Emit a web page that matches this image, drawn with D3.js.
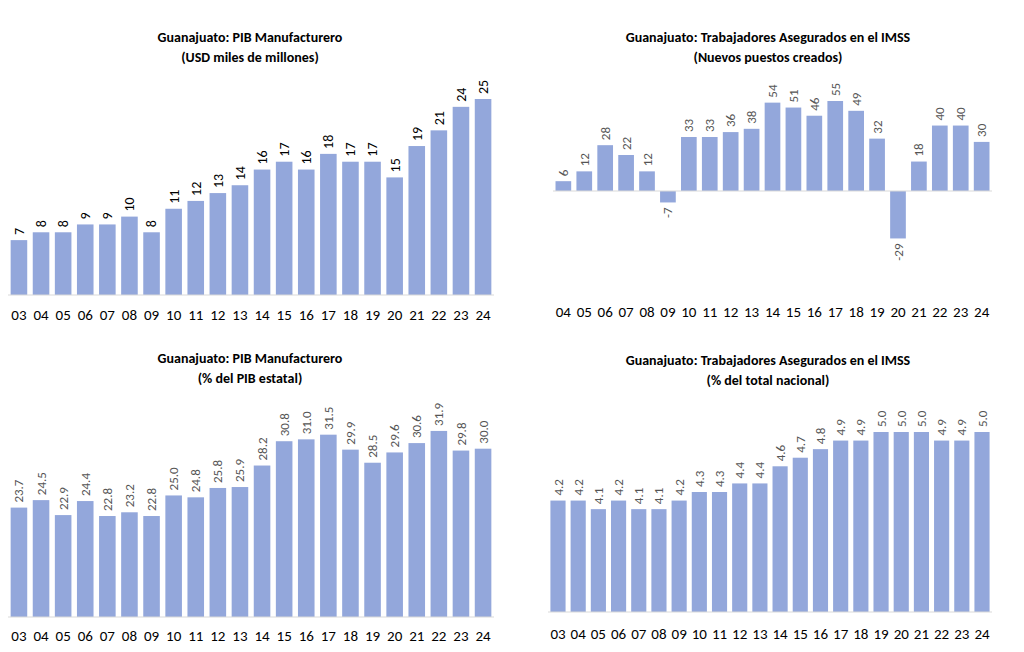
<!DOCTYPE html>
<html><head><meta charset="utf-8">
<script src="https://cdn.jsdelivr.net/npm/d3@7"></script>
<style>body{margin:0;background:#fff}text{font-family:Calibri,Carlito,"Open Sans",sans-serif}</style>
</head><body><svg id="c" width="1024" height="652"></svg>
<script>
const years03 = ["03","04","05","06","07","08","09","10","11","12","13","14","15","16","17","18","19","20","21","22","23","24"];
const years04 = years03.slice(1);
const pibUsd = [7,8,8,9,9,10,8,11,12,13,14,16,17,16,18,17,17,15,19,21,24,25];
const puestos = [6,12,28,22,12,-7,33,33,36,38,54,51,46,55,49,32,-29,18,40,40,30];
const pibPct = [23.7,24.5,22.9,24.4,22.8,23.2,22.8,25.0,24.8,25.8,25.9,28.2,30.8,31.0,31.5,29.9,28.5,29.6,30.6,31.9,29.8,30.0];
const imssPct = [4.2,4.2,4.1,4.2,4.1,4.1,4.2,4.3,4.3,4.4,4.4,4.6,4.7,4.8,4.9,4.9,5.0,5.0,5.0,4.9,4.9,5.0];

const svg = d3.select("#c");
const color = "#93a7db";

function panel(o){
  const g = svg.append("g");
  const x = d3.scaleBand().domain(o.cats).range([o.x0,o.x1]).paddingInner(0.25).paddingOuter(0.12);
  const y = d3.scaleLinear().domain(o.dom).range(o.rng);
  const base = y(o.base);
  o.vals.forEach((v,i)=>{
    const c=o.cats[i];
    g.append("rect").attr("x",x(c)).attr("width",x.bandwidth())
      .attr("y",Math.min(y(v),base)).attr("height",Math.abs(y(v)-base)).attr("fill",color);
    const cx=x(c)+x.bandwidth()/2;
    const ty = v>=0 ? y(v)-5 : y(v)+5;
    g.append("text").attr("transform",`translate(${cx+o.fs*0.35},${ty}) rotate(-90)`)
      .attr("text-anchor", v>=0?"start":"end").attr("font-size",o.fs).attr("fill",o.lc)
      .text(o.fmt(v));
  });
  g.append("line").attr("x1",o.x0).attr("x2",o.x1).attr("y1",base).attr("y2",base)
    .attr("stroke","#d9d9d9").attr("stroke-width",1.2);
  const ax = g.append("g").attr("transform",`translate(0,${o.axY})`)
    .call(d3.axisBottom(x).tickSize(0).tickPadding(0));
  ax.select(".domain").remove();
  ax.selectAll("text").attr("font-size",15).attr("fill","#000").attr("dy","0.7em")
    .style("font-family","Calibri,Carlito,'Open Sans',sans-serif");
  o.title.forEach((t,i)=>g.append("text").attr("x",o.tx).attr("y",o.ty+i*20)
    .attr("text-anchor","middle").attr("font-size",14).attr("font-weight","bold").text(t));
}

panel({cats:years03,vals:pibUsd,x0:8,x1:494,dom:[0,25],rng:[295,99],base:0,axY:309,
  fs:14,lc:"#000",fmt:d=>d,title:["Guanajuato: PIB Manufacturero","(USD miles de millones)"],tx:250,ty:42});
panel({cats:years04,vals:puestos,x0:553,x1:992,dom:[0,55],rng:[191,101],base:0,axY:306,
  fs:13,lc:"#555",fmt:d=>d,title:["Guanajuato: Trabajadores Asegurados en el IMSS","(Nuevos puestos creados)"],tx:768,ty:42});
panel({cats:years03,vals:pibPct,x0:8,x1:494,dom:[12,32],rng:[617,430],base:12,axY:630,
  fs:13,lc:"#555",fmt:d=>d.toFixed(1),title:["Guanajuato: PIB Manufacturero","(% del PIB estatal)"],tx:250,ty:363});
panel({cats:years03,vals:imssPct,x0:548,x1:992,dom:[2.9,5],rng:[612,432],base:2.9,axY:628,
  fs:13,lc:"#555",fmt:d=>d.toFixed(1),title:["Guanajuato: Trabajadores Asegurados en el IMSS","(% del total nacional)"],tx:768,ty:365});
</script></body></html>
